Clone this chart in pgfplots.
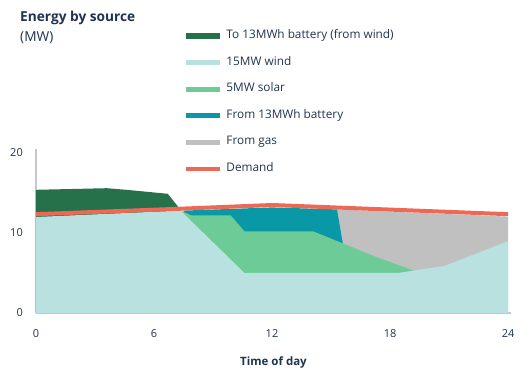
\documentclass[border=0pt]{standalone}
\usepackage{pgfplots}
\pgfplotsset{compat=1.18}
\usepackage{fontspec}
\setmainfont{Open Sans}
\definecolor{txt}{HTML}{1F3350}
\definecolor{charge}{HTML}{27714A}
\definecolor{wind}{HTML}{B8E1E0}
\definecolor{solar}{HTML}{6CCB96}
\definecolor{batt}{HTML}{0898A6}
\definecolor{gas}{HTML}{C0C0C0}
\definecolor{demand}{HTML}{EC6A55}
\definecolor{axisgray}{HTML}{C4C8CA}
\begin{document}
\begin{tikzpicture}
\path[use as bounding box] (0,0) rectangle (531bp,375bp);
\node[anchor=base west, inner sep=0pt, text=txt, font=\bfseries\fontsize{13.7bp}{16bp}\selectfont] at (20bp,353bp) {Energy by source};
\node[anchor=base west, inner sep=0pt, text=txt, font=\fontsize{13.7bp}{16bp}\selectfont] at (20bp,333bp) {(MW)};
\begin{axis}[
  at={(36bp,62bp)}, anchor=south west,
  scale only axis, width=475bp, height=164bp,
  xmin=0, xmax=24.15, ymin=0, ymax=20.5,
  axis x line*=bottom, axis y line*=left,
  axis line style={-, draw=axisgray, line width=1.2bp},
  xtick={0,6,12,18,24}, ytick={0,10,20},
  major tick length=0pt,
  /pgf/number format/assume math mode=true,
  tick label style={text=txt, font=\fontsize{11bp}{13bp}\selectfont},
  yticklabel style={inner sep=0pt, xshift=-13bp},
  xticklabel style={inner sep=0pt, yshift=-16bp},
  xlabel={Time of day},
  xlabel style={at={(axis description cs:0.5,-0.30)}, anchor=center, text=txt, font=\bfseries\fontsize{11.5bp}{13bp}\selectfont},
  legend cell align=left,
  legend image code/.code={\draw[#1] (0bp,0bp) -- (34bp,0bp);},
  legend style={at={(axis description cs:0.309,1.722)}, anchor=north west, draw=none, fill=none,
    inner sep=0pt, row sep=16bp, text=txt, font=\fontsize{11.8bp}{13bp}\selectfont,
    nodes={inner sep=0pt, text height=8bp, text depth=2.5bp},
    /tikz/every odd column/.append style={column sep=4bp}},
]
\addlegendimage{line width=5.5bp, charge}
\addlegendentry{To 13MWh battery (from wind)}
\addlegendimage{line width=5bp, wind}
\addlegendentry{15MW wind}
\addlegendimage{line width=5bp, solar}
\addlegendentry{5MW solar}
\addlegendimage{line width=5bp, batt}
\addlegendentry{From 13MWh battery}
\addlegendimage{line width=5bp, gas}
\addlegendentry{From gas}
\addlegendimage{line width=4bp, demand}
\addlegendentry{Demand}
% to battery (charging)
\addplot[forget plot, draw=none, fill=charge] coordinates {(0,15.4) (3.6,15.6) (4.6,15.4) (6.7,14.9) (7.35,12.9)} \closedcycle;
% gas
\addplot[forget plot, draw=none, fill=gas] coordinates {(15.3,12.95) (24,12.05)} \closedcycle;
% from battery
\addplot[forget plot, draw=none, fill=batt] coordinates {(7.5,12.8) (12,13.2) (15.3,12.95) (15.6,8.7)} \closedcycle;
% solar
\addplot[forget plot, draw=none, fill=solar] coordinates {(7.35,12.8) (7.9,12.2) (9.9,12.2) (10.6,10.2) (14.1,10.2) (17.3,7.0) (19.2,5.3)} \closedcycle;
% wind
\addplot[forget plot, draw=none, fill=wind] coordinates {(0,12.0) (7.35,12.8) (10.6,5.0) (18.4,5.0) (19.2,5.3) (20.8,5.9) (24,9.0)} \closedcycle;
% demand
\addplot[forget plot, demand, line width=4bp] coordinates {(0,12.35) (7.5,13.05) (12,13.5) (24,12.35)};
\end{axis}
\end{tikzpicture}
\end{document}
